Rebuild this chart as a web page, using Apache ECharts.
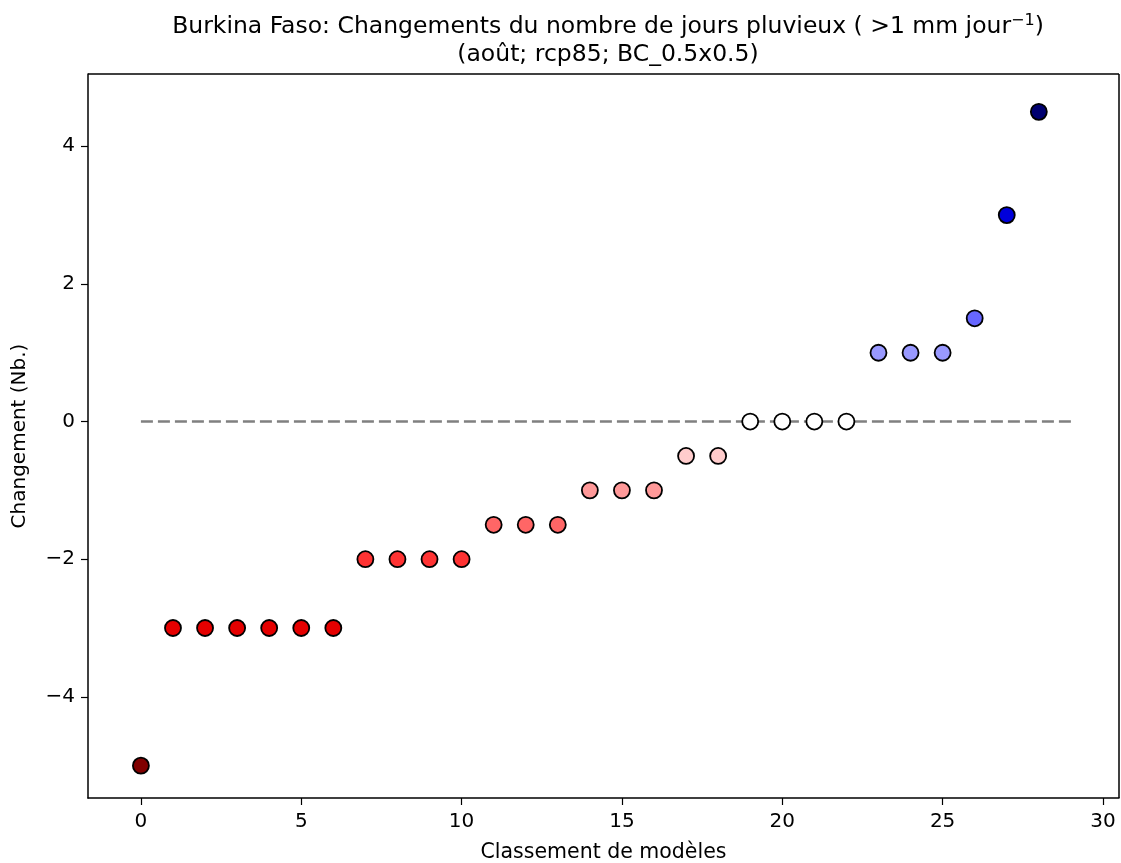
<!DOCTYPE html>
<html>
<head>
<meta charset="utf-8">
<script src="https://cdn.jsdelivr.net/npm/echarts@6/dist/echarts.min.js"></script>
<style>
    html, body { margin: 0; padding: 0; background: #fff; }
    #chart { width: 1121px; height: 863px; }
</style>
</head>
<body>
<div id="chart"></div>
<script>
// model rank (x) and change in rainy days (y)
var ranks = [0, 1, 2, 3, 4, 5, 6, 7, 8, 9, 10, 11, 12, 13, 14, 15, 16, 17, 18, 19, 20, 21, 22, 23, 24, 25, 26, 27, 28];
var changes = [-5, -3, -3, -3, -3, -3, -3, -2, -2, -2, -2, -1.5, -1.5, -1.5, -1, -1, -1, -0.5, -0.5, 0, 0, 0, 0, 1, 1, 1, 1.5, 3, 4.5];
var zeroLine = [[0, 0], [29, 0]];
var xTicks = [0, 5, 10, 15, 20, 25, 30];
var yTicks = [-4, -2, 0, 2, 4];

// seismic_r colour map, vmin -5 / vmax 5
function seismicR( v ) {
    var t = 1 - (v + 5) / 10;
    var r, g, b;
    if ( t <= 0.25 ) {
        r = 0; g = 0; b = 0.3 + (t / 0.25) * 0.7;
    } else if ( t <= 0.5 ) {
        var f = (t - 0.25) / 0.25;
        r = f; g = f; b = 1;
    } else if ( t <= 0.75 ) {
        var f2 = (t - 0.5) / 0.25;
        r = 1; g = 1 - f2; b = 1 - f2;
    } else {
        r = 1 - ((t - 0.75) / 0.25) * 0.5; g = 0; b = 0;
    }
    return 'rgb(' + Math.round(r * 255) + ',' + Math.round(g * 255) + ',' + Math.round(b * 255) + ')';
}

var points = [];
for (var i = 0; i < ranks.length; i++) {
    points.push({
        value: [ranks[i], changes[i]],
        itemStyle: { color: seismicR( changes[i] ) }
    });
}

var font = 'DejaVu Sans';
var myChart = echarts.init( document.getElementById( 'chart' ) );

var option = {
    animation: false,
    backgroundColor: '#fff',
    title: {
        text: 'Burkina Faso: Changements du nombre de jours pluvieux ( >1 mm jour{sup|−1})\n(août; rcp85; BC_0.5x0.5)',
        left: 603,
        top: 8,
        textAlign: 'center',
        textStyle: {
            fontFamily: font,
            fontSize: 23.5,
            fontWeight: 'normal',
            color: '#000',
            lineHeight: 28,
            rich: {
                sup: { fontFamily: font, fontSize: 16, color: '#000', verticalAlign: 'top', lineHeight: 18, padding: [0, 0, 8, 0] }
            }
        }
    },
    grid: {
        left: 88,
        right: 2,
        top: 74,
        bottom: 65,
        outerBoundsMode: 'none'
    },
    xAxis: {
        type: 'value',
        min: -1.65,
        max: 30.5,
        name: 'Classement de modèles',
        nameLocation: 'middle',
        nameGap: 44,
        nameTextStyle: { fontFamily: font, fontSize: 20.5, color: '#000' },
        axisLine: { onZero: false, lineStyle: { color: '#000', width: 1.5 } },
        axisTick: { show: true, length: 7, customValues: xTicks, lineStyle: { color: '#000', width: 1.2 } },
        axisLabel: { customValues: xTicks, fontFamily: font, fontSize: 20, color: '#000', margin: 14 },
        splitLine: { show: false }
    },
    yAxis: {
        type: 'value',
        min: -5.47,
        max: 5.05,
        name: 'Changement (Nb.)',
        nameLocation: 'middle',
        nameGap: 58,
        nameRotate: 90,
        nameTextStyle: { fontFamily: font, fontSize: 20, color: '#000' },
        axisLine: { show: true, onZero: false, lineStyle: { color: '#000', width: 1.5 } },
        axisTick: { show: true, length: 7, customValues: yTicks, lineStyle: { color: '#000', width: 1.2 } },
        axisLabel: {
            customValues: yTicks,
            fontFamily: font, fontSize: 20, color: '#000', margin: 13,
            formatter: function( v ) { return v < 0 ? '\u2212' + Math.abs(v) : String(v); }
        },
        splitLine: { show: false }
    },
    series: [
        {
            type: 'line',
            data: zeroLine,
            symbol: 'none',
            z: 1,
            lineStyle: { color: '#808080', width: 2.5, type: [12, 5] }
        },
        {
            type: 'scatter',
            data: points,
            symbol: 'circle',
            symbolSize: 16,
            z: 3,
            itemStyle: { borderColor: '#000', borderWidth: 1.8, opacity: 1 }
        }
    ]
};

myChart.setOption( option );

// top + right frame lines
myChart.setOption({
    graphic: [
        { type: 'line', shape: { x1: 88, y1: 74, x2: 1119, y2: 74 }, style: { stroke: '#000', lineWidth: 1.5 } },
        { type: 'line', shape: { x1: 1119, y1: 74, x2: 1119, y2: 798 }, style: { stroke: '#000', lineWidth: 1.5 } }
    ]
});

window.onresize = function() {
    myChart.resize();
};
</script>
</body>
</html>
